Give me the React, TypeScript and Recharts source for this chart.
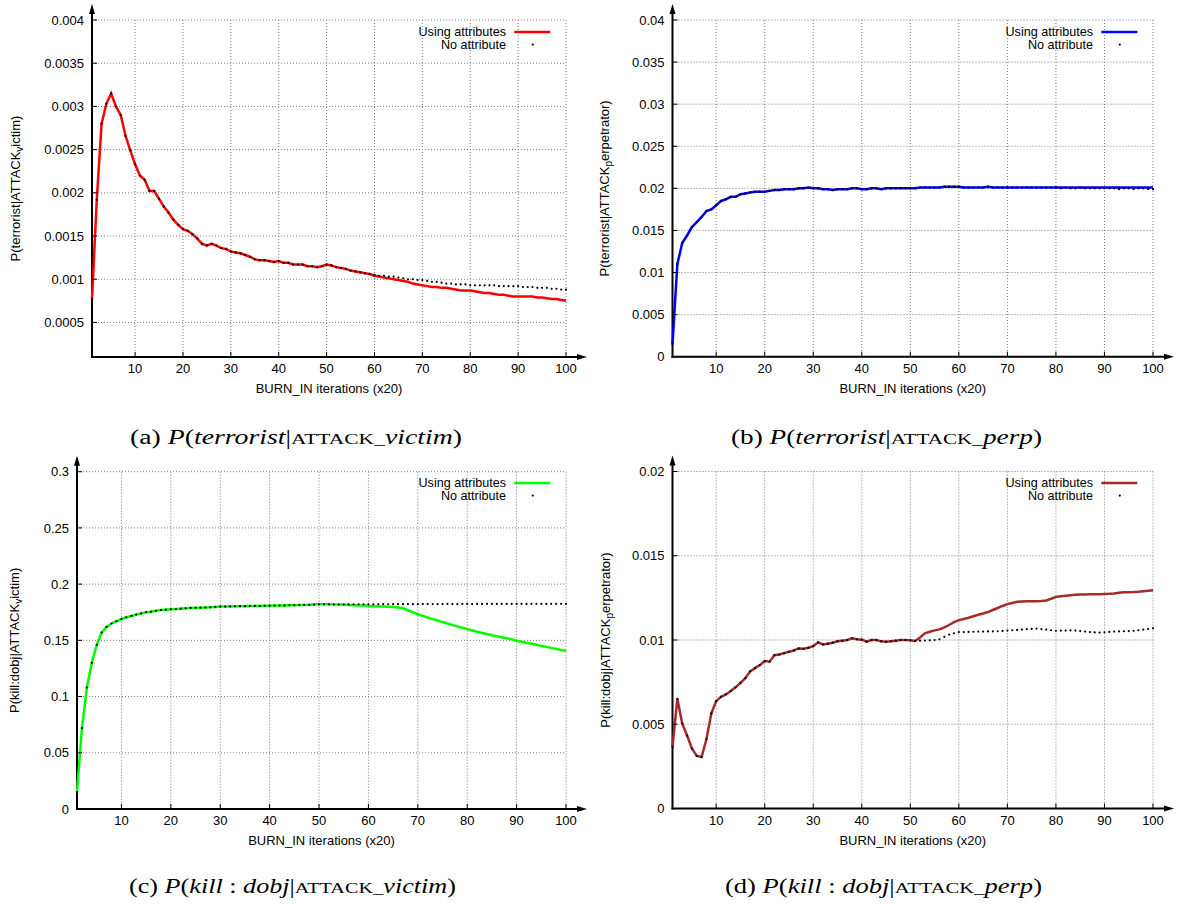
import React from "react";
import {
	CartesianGrid,
	Legend,
	Line,
	LineChart,
	ReferenceLine,
	XAxis,
	YAxis,
} from "recharts";

const SANS = '"Liberation Sans", Arial, Helvetica, sans-serif';
const SERIF = '"Liberation Serif", "Times New Roman", Times, serif';

// x positions: BURN_IN iterations (x20), 1..100
const iterations = Array.from({ length: 100 }, (_, i) => i + 1);
const xTicks = [10, 20, 30, 40, 50, 60, 70, 80, 90, 100];

// (a) P(terrorist | ATTACK_victim)
const victimTerrTicks = [0.0005, 0.001, 0.0015, 0.002, 0.0025, 0.003, 0.0035, 0.004];
const victimTerrNoAttr = [
	0.00077, 0.00192, 0.0028, 0.00303, 0.00315, 0.003, 0.0029, 0.00266, 0.00249, 0.00233,
	0.0022, 0.00215, 0.00202, 0.00202, 0.00193, 0.00184, 0.00177, 0.00169, 0.00163, 0.00158,
	0.00156, 0.00152, 0.00147, 0.00141, 0.00139, 0.00141, 0.00139, 0.00136, 0.00135, 0.00132,
	0.00131, 0.0013, 0.00128, 0.00126, 0.00123, 0.00122, 0.00122, 0.00121, 0.0012, 0.00121,
	0.00119, 0.00119, 0.00117, 0.00117, 0.00117, 0.00115, 0.00115, 0.00114, 0.00115, 0.00117,
	0.00116, 0.00114, 0.00113, 0.00112, 0.0011, 0.00109, 0.00108, 0.00107, 0.00106, 0.00105,
	0.00104, 0.00104, 0.00103, 0.00103, 0.00102, 0.00101, 0.001, 0.001, 0.00099, 0.00099,
	0.00098, 0.00097, 0.00097, 0.00096, 0.00095, 0.00095, 0.00094, 0.00094, 0.00094, 0.00093,
	0.00093, 0.00093, 0.00093, 0.00093, 0.00093, 0.00092, 0.00092, 0.00092, 0.00092, 0.00092,
	0.00091, 0.00091, 0.00091, 0.0009, 0.0009, 0.0009, 0.00089, 0.00089, 0.00088, 0.00088,
];
const victimTerrAttr = [
	...victimTerrNoAttr.slice(0, 58),
	0.00106, 0.00104, 0.00103, 0.00102, 0.00101, 0.001, 0.00099, 0.00098, 0.00097, 0.00095,
	0.00094, 0.00093, 0.00092, 0.00091, 0.00091, 0.0009, 0.0009, 0.00089, 0.00088, 0.00087,
	0.00087, 0.00087, 0.00086, 0.00085, 0.00084, 0.00084, 0.00083, 0.00082, 0.00082, 0.00081,
	0.0008, 0.0008, 0.0008, 0.0008, 0.0008, 0.00079, 0.00079, 0.00078, 0.00077, 0.00077,
	0.00076, 0.00075,
];

// (b) P(terrorist | ATTACK_perp)
const perpTerrTicks = [0, 0.005, 0.01, 0.015, 0.02, 0.025, 0.03, 0.035, 0.04];
const perpTerrNoAttr = [
	0.0015, 0.011, 0.0135, 0.0144, 0.0154, 0.016, 0.0166, 0.0173, 0.0175, 0.018,
	0.0185, 0.0187, 0.019, 0.019, 0.0193, 0.0194, 0.0195, 0.0196, 0.0196, 0.0196,
	0.0197, 0.0198, 0.0198, 0.0199, 0.0199, 0.0199, 0.02, 0.02, 0.0201, 0.02,
	0.02, 0.0199, 0.0199, 0.0198, 0.0199, 0.0199, 0.0199, 0.02, 0.02, 0.0199,
	0.0199, 0.02, 0.02, 0.0199, 0.02, 0.02, 0.02, 0.02, 0.02, 0.02,
	0.02, 0.0201, 0.0201, 0.0201, 0.0201, 0.0201, 0.0202, 0.0202, 0.0202, 0.0202,
	0.0201, 0.0201, 0.0201, 0.0201, 0.0201, 0.0202, 0.0201, 0.0201, 0.0201, 0.0201,
	0.0201, 0.0201, 0.0201, 0.0201, 0.0201, 0.0201, 0.0201, 0.0201, 0.0201, 0.0201,
	0.02, 0.0201, 0.02, 0.02, 0.0201, 0.02, 0.02, 0.02, 0.02, 0.02,
	0.02, 0.02, 0.0199, 0.02, 0.02, 0.0199, 0.02, 0.02, 0.0199, 0.0199,
];
const perpTerrAttr = [
	...perpTerrNoAttr.slice(0, 80),
	0.0201, 0.0201, 0.0201, 0.0201, 0.0201, 0.0201, 0.0201, 0.0201, 0.0201, 0.0201,
	0.0201, 0.0201, 0.0201, 0.0201, 0.0201, 0.0201, 0.0201, 0.0201, 0.0201, 0.0201,
];

// (c) P(kill:dobj | ATTACK_victim)
const victimKillTicks = [0, 0.05, 0.1, 0.15, 0.2, 0.25, 0.3];
const victimKillNoAttr = [
	0.015, 0.072, 0.108, 0.13, 0.146, 0.157, 0.162, 0.165, 0.167, 0.169,
	0.1705, 0.1717, 0.173, 0.174, 0.175, 0.1755, 0.1763, 0.177, 0.1773, 0.1776,
	0.1779, 0.1782, 0.1785, 0.1788, 0.179, 0.1791, 0.1792, 0.1794, 0.1797, 0.18,
	0.18, 0.1802, 0.1803, 0.1804, 0.1804, 0.1805, 0.1806, 0.1806, 0.1807, 0.1808,
	0.1809, 0.181, 0.1811, 0.1812, 0.1813, 0.1814, 0.1815, 0.1816, 0.1818, 0.182,
	0.182, 0.182, 0.1819, 0.1819, 0.1819, 0.182, 0.182, 0.1821, 0.182, 0.182,
	0.1821, 0.1821, 0.1822, 0.1821, 0.1822, 0.1822, 0.1822, 0.1823, 0.1822, 0.1822,
	0.1823, 0.1823, 0.1823, 0.1822, 0.1823, 0.1824, 0.1823, 0.1823, 0.1824, 0.1824,
	0.1823, 0.1824, 0.1824, 0.1825, 0.1824, 0.1824, 0.1825, 0.1824, 0.1824, 0.1825,
	0.1825, 0.1824, 0.1825, 0.1825, 0.1825, 0.1824, 0.1825, 0.1825, 0.1825, 0.1825,
];
const victimKillAttr = [
	...victimKillNoAttr.slice(0, 55),
	0.1815, 0.1813, 0.1811, 0.1809, 0.1806, 0.1804, 0.1802, 0.18, 0.1798, 0.1796,
	0.1793, 0.1785, 0.1768, 0.175, 0.1733, 0.1718, 0.1703, 0.1689, 0.1676, 0.1663,
	0.165, 0.1637, 0.1624, 0.1612, 0.16, 0.1588, 0.1577, 0.1566, 0.1556, 0.1546,
	0.1536, 0.1527, 0.1518, 0.1509, 0.1497, 0.1488, 0.1478, 0.1469, 0.146, 0.1451,
	0.1442, 0.1433, 0.1424, 0.1415, 0.1406,
];

// (d) P(kill:dobj | ATTACK_perp)
const perpKillTicks = [0, 0.005, 0.01, 0.015, 0.02];
const perpKillNoAttr = [
	0.00366, 0.00651, 0.00505, 0.00433, 0.00356, 0.00312, 0.00306, 0.00412, 0.00564, 0.00637,
	0.00663, 0.00677, 0.00697, 0.00719, 0.00746, 0.00774, 0.00814, 0.00833, 0.00851, 0.00875,
	0.00871, 0.0091, 0.00914, 0.00922, 0.0093, 0.00938, 0.0095, 0.00948, 0.00954, 0.00964,
	0.00986, 0.00974, 0.00978, 0.00984, 0.00992, 0.00996, 0.01, 0.0101, 0.01004, 0.01002,
	0.0099, 0.01, 0.01, 0.00992, 0.0099, 0.00992, 0.00996, 0.01, 0.01, 0.00998,
	0.00994, 0.00996, 0.00997, 0.00998, 0.01, 0.01004, 0.01019, 0.01032, 0.0104, 0.01047,
	0.01047, 0.01048, 0.01049, 0.0105, 0.0105, 0.01051, 0.01051, 0.01052, 0.01054, 0.01056,
	0.01058, 0.0106, 0.01062, 0.01064, 0.01066, 0.01068, 0.01065, 0.01062, 0.01058, 0.01055,
	0.01056, 0.01056, 0.01057, 0.01056, 0.01053, 0.0105, 0.01047, 0.01045, 0.01044, 0.01046,
	0.01048, 0.0105, 0.01051, 0.01052, 0.01053, 0.01055, 0.01058, 0.01062, 0.01065, 0.01069,
];
const perpKillAttr = [
	...perpKillNoAttr.slice(0, 51),
	0.01015, 0.0104, 0.01049, 0.01057, 0.01063, 0.01075, 0.01089, 0.01106, 0.01118,
	0.01125, 0.01132, 0.01141, 0.0115, 0.01157, 0.01166, 0.01178, 0.0119, 0.01202, 0.01213,
	0.0122, 0.01227, 0.01229, 0.0123, 0.0123, 0.0123, 0.01232, 0.01235, 0.01245, 0.01256,
	0.0126, 0.01263, 0.01266, 0.01268, 0.0127, 0.0127, 0.01271, 0.01271, 0.01272, 0.01273,
	0.01274, 0.01276, 0.01281, 0.01283, 0.01284, 0.01285, 0.01287, 0.0129, 0.01292, 0.01295,
];

type Box = { left: number; top: number; width: number; height: number };
type Plot = { left: number; right: number; top: number; bottom: number };

interface PanelProps {
	box: Box;
	plot: Plot;
	attr: number[];
	noAttr: number[];
	color: string;
	yDomain: [number, number];
	yTicks: number[];
	yLabel: [string, string, string];
	legendEnd: number;
	legendTop: number;
}

const tickStyle = { fill: "#000", fontSize: 13, fontFamily: SANS };

// axis lines with arrow heads, drawn from the scaled segment end points
const yArrow = (p: any) => {
	const x = p.x1;
	const bottom = Math.max(p.y1, p.y2);
	const tip = Math.min(p.y1, p.y2) - 16;
	return (
		<g>
			<line x1={x} y1={bottom + 1} x2={x} y2={tip + 5} stroke="#000" strokeWidth={2} />
			<path d={`M${x} ${tip} L${x - 3} ${tip + 10} L${x + 3} ${tip + 10} Z`} fill="#000" />
		</g>
	);
};

const xArrow = (p: any) => {
	const y = p.y1;
	const left = Math.min(p.x1, p.x2);
	const tip = Math.max(p.x1, p.x2) + 21;
	return (
		<g>
			<line x1={left - 1} y1={y} x2={tip - 5} y2={y} stroke="#000" strokeWidth={2} />
			<path d={`M${tip} ${y} L${tip - 10} ${y - 3} L${tip - 10} ${y + 3} Z`} fill="#000" />
		</g>
	);
};

const renderDot = (p: any) => (
	<circle key={`nd-${p.index}`} cx={p.cx} cy={p.cy} r={1.1} fill="#000" />
);

const xLabel = (p: any) => {
	const vb = p.viewBox;
	return (
		<text x={vb.x + vb.width / 2} y={vb.y + 36} textAnchor="middle" fontSize={13} fontFamily={SANS} fill="#000">
			BURN_IN iterations (x20)
		</text>
	);
};

const makeYLabel = (parts: [string, string, string]) => (p: any) => {
	const vb = p.viewBox;
	const cy = vb.y + vb.height / 2;
	const x = 19.5;
	return (
		<text x={x} y={cy} transform={`rotate(-90 ${x} ${cy})`} textAnchor="middle" fontSize={13} fontFamily={SANS} fill="#000">
			<tspan>{parts[0]}</tspan>
			<tspan fontSize={10} dy={3}>{parts[1]}</tspan>
			<tspan dy={-3}>{parts[2]}</tspan>
		</text>
	);
};

const makeLegend = (color: string) => (p: any) => {
	const items: any[] = p.payload || [];
	const withAttr = items.find((it) => it.dataKey === "attr")?.value ?? "Using attributes";
	const withoutAttr = items.find((it) => it.dataKey === "noAttr")?.value ?? "No attribute";
	return (
		<svg width={170} height={28} style={{ display: "block" }}>
			<text x={120} y={11.4} textAnchor="end" fontSize={12.6} fontFamily={SANS} fill="#000">
				{withAttr}
			</text>
			<line x1={128.3} y1={7} x2={164.3} y2={7} stroke={color} strokeWidth={2.5} />
			<text x={120} y={24} textAnchor="end" fontSize={12.6} fontFamily={SANS} fill="#000">
				{withoutAttr}
			</text>
			<circle cx={146.8} cy={19.6} r={1.1} fill="#000" />
		</svg>
	);
};

function Panel({ box, plot, attr, noAttr, color, yDomain, yTicks, yLabel, legendEnd, legendTop }: PanelProps) {
	const rows = iterations.map((x, i) => ({ x, attr: attr[i], noAttr: noAttr[i] }));
	const [yMin, yMax] = yDomain;
	return (
		<div style={{ position: "absolute", left: box.left, top: box.top }}>
			<LineChart
				width={box.width}
				height={box.height}
				data={rows}
				margin={{ top: plot.top, right: box.width - plot.right, bottom: 0, left: 0 }}
			>
				<CartesianGrid stroke="#7a7a7a" strokeDasharray="1 2" />
				<XAxis
					dataKey="x"
					type="number"
					domain={[1, 100]}
					ticks={xTicks}
					height={box.height - plot.bottom}
					axisLine={false}
					tickLine={{ stroke: "#000" }}
					tickSize={-5}
					tickMargin={12}
					tick={tickStyle}
					label={xLabel}
				/>
				<XAxis
					xAxisId="top"
					orientation="top"
					type="number"
					domain={[1, 100]}
					ticks={xTicks}
					height={0}
					axisLine={false}
					tick={false}
					tickLine={{ stroke: "#000" }}
					tickSize={-5}
				/>
				<YAxis
					type="number"
					domain={yDomain}
					ticks={yTicks}
					width={plot.left}
					axisLine={false}
					tickLine={{ stroke: "#000" }}
					tickSize={-5}
					tickMargin={13}
					tick={tickStyle}
					label={makeYLabel(yLabel)}
				/>
				<YAxis
					yAxisId="right"
					orientation="right"
					type="number"
					domain={yDomain}
					ticks={yTicks}
					width={0}
					axisLine={false}
					tick={false}
					tickLine={{ stroke: "#000" }}
					tickSize={-5}
				/>
				<ReferenceLine
					segment={[{ x: 1, y: yMin }, { x: 1, y: yMax }]}
					shape={yArrow}
					ifOverflow="visible"
				/>
				<ReferenceLine
					segment={[{ x: 1, y: yMin }, { x: 100, y: yMin }]}
					shape={xArrow}
					ifOverflow="visible"
				/>
				<Legend
					layout="horizontal"
					align="center"
					verticalAlign="middle"
					wrapperStyle={{ left: legendEnd - 120, top: legendTop - 7, width: 170, height: 28 }}
					content={makeLegend(color)}
				/>
				<Line
					dataKey="attr"
					name="Using attributes"
					type="linear"
					stroke={color}
					strokeWidth={2.5}
					dot={false}
					isAnimationActive={false}
				/>
				<Line
					dataKey="noAttr"
					name="No attribute"
					type="linear"
					stroke="none"
					dot={renderDot}
					activeDot={false}
					isAnimationActive={false}
				/>
			</LineChart>
		</div>
	);
}

const capStyle = { fontFamily: SERIF, fontSize: 20, fill: "#000" };

function Caption({ x, y, len, tag, args }: { x: number; y: number; len: number; tag: string; args: React.ReactNode }) {
	return (
		<text x={x} y={y} textLength={len} lengthAdjust="spacingAndGlyphs" style={capStyle}>
			<tspan>{`(${tag}) `}</tspan>
			<tspan fontStyle="italic">P</tspan>
			<tspan>(</tspan>
			{args}
			<tspan>|</tspan>
			<tspan fontSize={15.5}>ATTACK_</tspan>
			<tspan fontStyle="italic">{tag === "a" || tag === "c" ? "victim" : "perp"}</tspan>
			<tspan>)</tspan>
		</text>
	);
}

const terroristArg = <tspan fontStyle="italic">terrorist</tspan>;
const killArg = (
	<>
		<tspan fontStyle="italic">kill</tspan>
		<tspan>{" : "}</tspan>
		<tspan fontStyle="italic">dobj</tspan>
	</>
);

export default function App() {
	return (
		<div style={{ position: "absolute", left: 0, top: 0, width: 1177, height: 904, background: "#fff" }}>
			<Panel
				box={{ left: 0, top: 0, width: 590, height: 400 }}
				plot={{ left: 92, right: 566, top: 20, bottom: 357 }}
				attr={victimTerrAttr}
				noAttr={victimTerrNoAttr}
				color="#ff0000"
				yDomain={[0.0001, 0.004]}
				yTicks={victimTerrTicks}
				yLabel={["P(terrorist|ATTACK", "v", "ictim)"]}
				legendEnd={505.7}
				legendTop={31.7}
			/>
			<Panel
				box={{ left: 590, top: 0, width: 587, height: 400 }}
				plot={{ left: 82.5, right: 563, top: 20, bottom: 356.7 }}
				attr={perpTerrAttr}
				noAttr={perpTerrNoAttr}
				color="#0000ff"
				yDomain={[0, 0.04]}
				yTicks={perpTerrTicks}
				yLabel={["P(terrorist|ATTACK", "p", "erpetrator)"]}
				legendEnd={503}
				legendTop={32}
			/>
			<Panel
				box={{ left: 0, top: 450, width: 590, height: 400 }}
				plot={{ left: 77, right: 566, top: 21.7, bottom: 359 }}
				attr={victimKillAttr}
				noAttr={victimKillNoAttr}
				color="#00ff00"
				yDomain={[0, 0.3]}
				yTicks={victimKillTicks}
				yLabel={["P(kill:dobj|ATTACK", "v", "ictim)"]}
				legendEnd={505.7}
				legendTop={33.3}
			/>
			<Panel
				box={{ left: 590, top: 450, width: 587, height: 400 }}
				plot={{ left: 82.5, right: 563, top: 21.5, bottom: 358.5 }}
				attr={perpKillAttr}
				noAttr={perpKillNoAttr}
				color="#a52a2a"
				yDomain={[0, 0.02]}
				yTicks={perpKillTicks}
				yLabel={["P(kill:dobj|ATTACK", "p", "erpetrator)"]}
				legendEnd={503}
				legendTop={33.3}
			/>
			<svg width={1177} height={904} style={{ position: "absolute", left: 0, top: 0, pointerEvents: "none" }}>
				<Caption x={130} y={443.5} len={332} tag="a" args={terroristArg} />
				<Caption x={731} y={443.5} len={311} tag="b" args={terroristArg} />
				<Caption x={129} y={893} len={327} tag="c" args={killArg} />
				<Caption x={725} y={893} len={317} tag="d" args={killArg} />
			</svg>
		</div>
	);
}
